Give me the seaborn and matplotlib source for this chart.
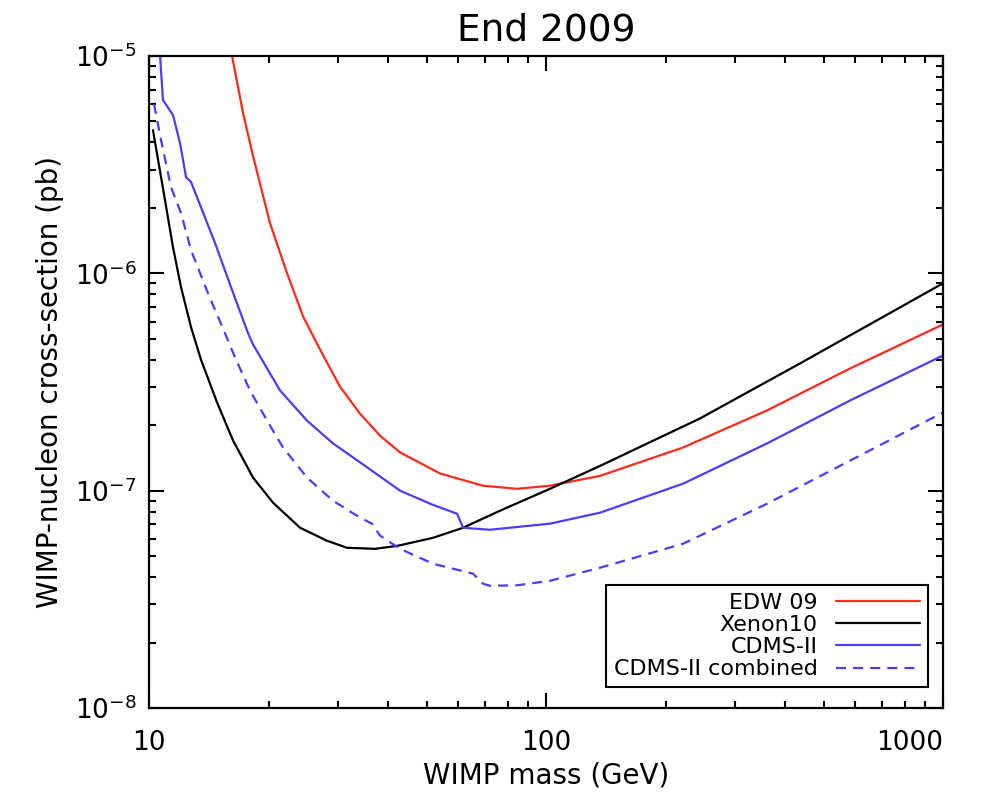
import matplotlib
matplotlib.use('Agg')
import matplotlib.pyplot as plt
import pandas as pd
import seaborn as sns

# WIMP exclusion limits, end 2009 (mass in GeV, cross-section in pb)
edw_mass = [16.18, 17.25, 18.28, 20.17, 22.27, 24.43, 26.96, 30.27, 34.0, 38.19, 42.88, 54.08,
            69.38, 84.53, 102.3, 136.8, 221.4, 360.4, 583.3, 1000]
edw_xs = [1.0e-5, 5.46e-6, 3.46e-6, 1.70e-6, 1.0e-6, 6.33e-7, 4.46e-7, 3.01e-7, 2.26e-7, 1.79e-7, 1.50e-7, 1.20e-7,
          1.054e-7, 1.02e-7, 1.054e-7, 1.17e-7, 1.58e-7, 2.34e-7, 3.65e-7, 5.82e-7]

xenon_mass = [10.23, 10.54, 10.97, 11.49, 12.04, 12.76, 13.52, 14.83, 16.28, 18.28, 20.53, 24.01,
              28.08, 31.53, 37.10, 42.38, 51.93, 61.80, 76.6, 102.3, 136.8, 244.3, 436.3, 1000]
xenon_xs = [4.56e-6, 3.32e-6, 2.17e-6, 1.318e-6, 8.62e-7, 5.64e-7, 4.0e-7, 2.55e-7, 1.70e-7, 1.148e-7, 8.8e-8, 6.75e-8,
            5.88e-8, 5.46e-8, 5.40e-8, 5.58e-8, 6.07e-8, 6.75e-8, 8.09e-8, 1.02e-7, 1.30e-7, 2.15e-7, 3.85e-7, 9.0e-7]

cdms_mass = [10.66, 10.84, 11.49, 11.97, 12.39, 12.76, 13.52, 14.67, 16.09, 17.76, 18.28, 21.38,
             25.0, 29.07, 34.0, 42.88, 51.93, 59.69, 61.80, 72.26, 102.3, 136.8, 221.4, 360.4, 583.3, 1000]
cdms_xs = [1.0e-5, 6.27e-6, 5.35e-6, 3.97e-6, 2.77e-6, 2.63e-6, 2.01e-6, 1.375e-6, 8.62e-7, 5.3e-7, 4.7e-7, 2.89e-7,
           2.10e-7, 1.65e-7, 1.35e-7, 1.0e-7, 8.6e-8, 7.83e-8, 6.75e-8, 6.61e-8, 7.05e-8, 7.92e-8, 1.077e-7, 1.65e-7,
           2.60e-7, 4.19e-7]

comb_mass = [10.29, 10.72, 11.36, 12.04, 12.76, 14.08, 15.54, 16.47, 17.96, 19.83, 21.75, 25.0, 29.07,
             34.0, 36.45, 38.19, 42.88, 51.93, 65.49, 69.38, 72.26, 84.53, 102.3, 136.8, 221.4, 360.4, 583.3, 1000]
comb_xs = [6.01e-6, 4.10e-6, 2.49e-6, 1.89e-6, 1.276e-6, 8.09e-7, 5.29e-7, 4.10e-7, 2.89e-7, 2.10e-7, 1.58e-7, 1.148e-7,
           8.99e-8, 7.51e-8, 7.05e-8, 6.21e-8, 5.40e-8, 4.61e-8, 4.15e-8, 3.73e-8, 3.65e-8, 3.67e-8, 3.85e-8, 4.42e-8,
           5.70e-8, 8.71e-8, 1.375e-7, 2.29e-7]

sns.set_style('ticks')
plt.rcParams['font.family'] = ['DejaVu Sans']
plt.rcParams['text.color'] = 'black'
plt.rcParams['axes.labelcolor'] = 'black'
plt.rcParams['xtick.color'] = 'black'
plt.rcParams['ytick.color'] = 'black'

fig = plt.figure(figsize=(10.01, 8.01), dpi=100)
ax = fig.add_axes([0.1489, 0.1161, 0.7932, 0.8140])
ax.set_xscale('log')
ax.set_yscale('log')

series = [
    (edw_mass, edw_xs, 'EDW 09', '#ff2a1a', '-'),
    (xenon_mass, xenon_xs, 'Xenon10', 'black', '-'),
    (cdms_mass, cdms_xs, 'CDMS-II', '#4b3cff', '-'),
    (comb_mass, comb_xs, 'CDMS-II combined', '#4b3cff', '--'),
]
for m, xs, name, col, ls in series:
    df = pd.DataFrame({'mass': m, 'xs': xs})
    sns.lineplot(data=df, x='mass', y='xs', ax=ax, color=col, linestyle=ls,
                 linewidth=1.6, label=name, sort=False, estimator=None)
ax.lines[3].set_dashes((4.5, 3.2))

ax.set_xlim(10, 1000)
ax.set_ylim(1e-8, 1e-5)
ax.set_xticks([10, 100, 1000])
ax.set_xticklabels(['10', '100', '1000'])
ax.get_xticklabels()[-1].set_horizontalalignment('right')
ax.tick_params(which='both', direction='in', top=True, right=True, labelsize=19)
ax.tick_params(which='major', length=11, width=1.5)
ax.tick_params(which='minor', length=5, width=1.5)
ax.tick_params(axis='x', which='major', pad=16)
ax.tick_params(axis='y', which='major', pad=9)
for s in ax.spines.values():
    s.set_linewidth(1.6)
    s.set_color('black')

ax.set_xlabel('WIMP mass (GeV)', fontsize=20, labelpad=4)
ax.set_ylabel('WIMP-nucleon cross-section (pb)', fontsize=20, labelpad=8)
ax.set_title('End 2009', fontsize=27, pad=11)

leg = ax.legend(loc='lower right', bbox_to_anchor=(0.981, 0.032), borderaxespad=0,
                markerfirst=False, fancybox=False, edgecolor='black', framealpha=1,
                fontsize=16, handlelength=3.8, labelspacing=0.1, borderpad=0.35)
leg.get_frame().set_linewidth(1.5)

fig.savefig('out.png', dpi=100)
